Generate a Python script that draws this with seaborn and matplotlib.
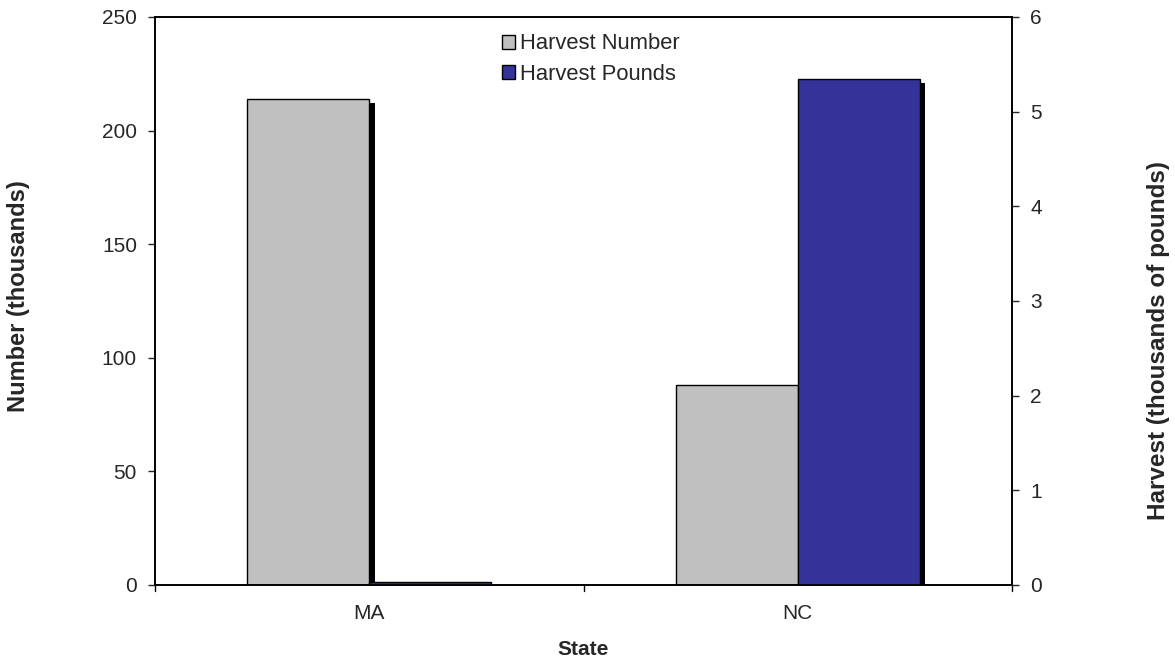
import matplotlib
matplotlib.use("Agg")
import matplotlib.pyplot as plt
import matplotlib.patheffects as pe
from matplotlib.patches import Patch
import pandas as pd
import seaborn as sns

# Data
states = ["MA", "NC"]
harvest_number = [214, 88]        # thousands (left axis)
harvest_pounds = [0.03, 5.35]     # thousands of pounds (right axis)
series = ["Harvest Number", "Harvest Pounds"]
colors = ["#C0C0C0", "#333399"]

sns.set_style("white")
plt.rcParams["font.family"] = ["Liberation Sans", "DejaVu Sans"]

df_num = pd.DataFrame({"state": states, "value": harvest_number, "series": series[0]})
df_lbs = pd.DataFrame({"state": states, "value": harvest_pounds, "series": series[1]})

fig = plt.figure(figsize=(11.75, 6.62), dpi=100)
ax = fig.add_axes([155 / 1175, 1 - 585 / 662, (1012 - 155) / 1175, (585 - 17) / 662])
ax2 = ax.twinx()

shadow = [pe.SimplePatchShadow(offset=(4, -3), shadow_rgbFace="black", alpha=1.0), pe.Normal()]

sns.barplot(data=df_num, x="state", y="value", hue="series", hue_order=series,
            palette=colors, order=states, width=0.57, dodge=True, saturation=1,
            edgecolor="black", linewidth=1, ax=ax, legend=False)
sns.barplot(data=df_lbs, x="state", y="value", hue="series", hue_order=series,
            palette=colors, order=states, width=0.57, dodge=True, saturation=1,
            edgecolor="black", linewidth=1, ax=ax2, legend=False)

for a in (ax, ax2):
    for p in a.patches:
        p.set_path_effects(shadow)

ax.set_xlim(-0.5, 1.5)
ax.set_ylim(0, 250)
ax2.set_ylim(0, 6)
ax.set_yticks(range(0, 251, 50))
ax2.set_yticks(range(0, 7))
ax.set_xticks([0, 1], states)
ax.tick_params(axis="x", length=0, labelsize=15, pad=14)
ax.tick_params(axis="y", direction="out", length=5, width=1, labelsize=15, left=True, pad=8)
ax2.tick_params(axis="y", direction="out", length=5, width=1, labelsize=15, right=True, pad=8)
# ticks at category boundaries
for xb in [-0.5, 0.5, 1.5]:
    ax.plot([xb, xb], [0, -0.01], transform=ax.get_xaxis_transform(),
            color="black", lw=1, clip_on=False)

for a in (ax, ax2):
    for s in a.spines.values():
        s.set_color("black")
        s.set_linewidth(1.2)

ax.set_xlabel("State", fontsize=15, fontweight="bold", labelpad=12)
ax.set_ylabel("Number (thousands)", fontsize=17, fontweight="bold")
ax.yaxis.set_label_coords((30 - 155) / 857, (585 - 296) / 568)
ax2.set_ylabel("Harvest (thousands of pounds)", fontsize=17.5, fontweight="bold", rotation=90)
ax2.yaxis.set_label_coords((1147 - 155) / 857, (585 - 341) / 568)

handles = [Patch(facecolor=c, edgecolor="black", label=l) for c, l in zip(colors, series)]
ax.legend(handles=handles, loc="upper left", bbox_to_anchor=(0.386, 1.0), frameon=False,
          fontsize=15.8, handlelength=0.6, handleheight=0.6, handletextpad=0.2,
          labelspacing=0.42, borderaxespad=0.35)

fig.savefig("out.png", dpi=100)
